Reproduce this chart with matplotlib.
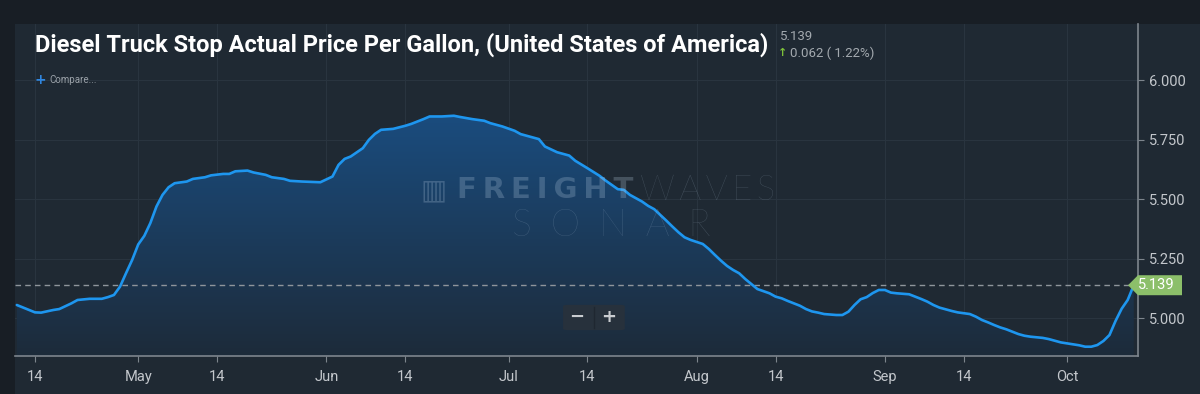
import matplotlib
matplotlib.use("Agg")
import matplotlib.pyplot as plt
import matplotlib.dates as mdates
import numpy as np
import pandas as pd
from matplotlib.colors import LinearSegmentedColormap
from matplotlib.patches import Polygon, FancyBboxPatch
from matplotlib.transforms import blended_transform_factory

# diesel truck stop price, 2022
dates = ['04-11', '04-14', '04-15', '04-17', '04-18', '04-20', '04-21', '04-23', '04-25', '04-26',
         '04-27', '04-28', '04-29', '04-30', '05-01', '05-02', '05-03', '05-04', '05-05', '05-06',
         '05-07', '05-09', '05-10', '05-12', '05-13', '05-15', '05-16', '05-17', '05-19', '05-20',
         '05-22', '05-23', '05-25', '05-26', '05-28', '05-31', '06-02', '06-03', '06-04', '06-05',
         '06-07', '06-08', '06-09', '06-10', '06-12', '06-14', '06-15', '06-17', '06-18', '06-20',
         '06-22', '06-23', '06-25', '06-27', '06-28', '06-30', '07-02', '07-03', '07-06', '07-07',
         '07-09', '07-11', '07-12', '07-14', '07-16', '07-17', '07-18', '07-19', '07-20', '07-21',
         '07-23', '07-24', '07-25', '07-26', '07-27', '07-28', '07-29', '07-30', '07-31', '08-02',
         '08-03', '08-04', '08-05', '08-06', '08-07', '08-08', '08-09', '08-10', '08-11', '08-13',
         '08-14', '08-15', '08-16', '08-17', '08-18', '08-19', '08-20', '08-21', '08-22', '08-24',
         '08-25', '08-26', '08-27', '08-28', '08-29', '08-30', '08-31', '09-01', '09-02', '09-03',
         '09-05', '09-06', '09-07', '09-08', '09-09', '09-10', '09-11', '09-12', '09-13', '09-15',
         '09-16', '09-17', '09-18', '09-19', '09-20', '09-21', '09-22', '09-23', '09-24', '09-25',
         '09-27', '09-28', '09-29', '09-30', '10-01', '10-02', '10-03', '10-04', '10-05', '10-06',
         '10-07', '10-08', '10-09', '10-10', '10-11', '10-12']
price = [5.056, 5.025, 5.024, 5.035, 5.039, 5.063, 5.077, 5.082, 5.082, 5.089,
         5.098, 5.133, 5.190, 5.245, 5.310, 5.346, 5.400, 5.469, 5.518, 5.550,
         5.567, 5.574, 5.585, 5.592, 5.600, 5.606, 5.606, 5.617, 5.620, 5.612,
         5.602, 5.592, 5.585, 5.577, 5.574, 5.571, 5.595, 5.644, 5.669, 5.679,
         5.714, 5.749, 5.774, 5.791, 5.795, 5.808, 5.816, 5.836, 5.847, 5.847,
         5.850, 5.845, 5.836, 5.829, 5.819, 5.805, 5.787, 5.773, 5.752, 5.721,
         5.697, 5.683, 5.661, 5.630, 5.598, 5.578, 5.560, 5.542, 5.539, 5.518,
         5.490, 5.472, 5.458, 5.434, 5.410, 5.385, 5.361, 5.340, 5.329, 5.312,
         5.291, 5.266, 5.242, 5.220, 5.203, 5.189, 5.165, 5.144, 5.123, 5.105,
         5.091, 5.084, 5.073, 5.063, 5.053, 5.039, 5.029, 5.024, 5.018, 5.014,
         5.014, 5.028, 5.056, 5.080, 5.089, 5.106, 5.119, 5.119, 5.108, 5.105,
         5.101, 5.091, 5.081, 5.070, 5.056, 5.045, 5.038, 5.031, 5.025, 5.018,
         5.007, 4.993, 4.983, 4.972, 4.962, 4.954, 4.944, 4.934, 4.927, 4.923,
         4.918, 4.913, 4.906, 4.899, 4.895, 4.891, 4.887, 4.881, 4.881, 4.888,
         4.905, 4.930, 4.989, 5.040, 5.077, 5.139]
yticks = [5.0, 5.25, 5.5, 5.75, 6.0]
last_value = 5.139
change = 0.062
change_pct = 1.22

x = mdates.date2num(pd.to_datetime(['2022-' + d for d in dates]))
y = np.array(price)

bg = '#1f2933'
outer = '#181e25'
grid_c = '#29343f'
text_c = '#c3c7cc'
line_c = '#1e96ef'

fig = plt.figure(figsize=(12, 3.94), dpi=100)
fig.patch.set_facecolor(outer)
# panel
fig.patches.append(FancyBboxPatch((15 / 1200, 0), 1 - 15 / 1200, 1 - 24 / 394,
                                  boxstyle='square,pad=0', transform=fig.transFigure,
                                  facecolor=bg, edgecolor='none', zorder=-5))

ax = fig.add_axes([15 / 1200, 1 - 356 / 394, 1123 / 1200, 332 / 394])
ax.set_facecolor(bg)
x0, x1 = x[0] - 0.3, x[-1] + 0.7
y0, y1 = 4.842, 6.235

# gradient fill under the curve
grad = np.linspace(1, 0, 256).reshape(-1, 1)
cmap = LinearSegmentedColormap.from_list('fillc', ['#1d2b3a', '#1a4c7e'])
im = ax.imshow(grad, extent=[x0, x1, y0, y.max()], aspect='auto', cmap=cmap,
               origin='upper', zorder=1)
poly = ax.fill_between(x, y, y0, color='none', lw=0)
im.set_clip_path(poly.get_paths()[0], transform=ax.transData)

ax.plot(x, y, color=line_c, lw=1.9, zorder=3, solid_capstyle='round')
ax.axhline(last_value, color='#8f959b', lw=1, ls=(0, (4, 3)), zorder=2)
ax.set_xlim(x0, x1)
ax.set_ylim(y0, y1)
ax.xaxis_date()

# axes styling
for s in ['top', 'left']:
    ax.spines[s].set_visible(False)
ax.spines['right'].set_color('#7d858d')
ax.spines['bottom'].set_color('#7d858d')
ax.spines['right'].set_linewidth(1.2)
ax.spines['bottom'].set_linewidth(1.2)

ax.yaxis.tick_right()
ax.set_yticks(yticks)
ax.yaxis.set_major_formatter(plt.FuncFormatter(lambda v, p: f'{v:.3f}'))
ax.xaxis.set_major_locator(mdates.DayLocator(bymonthday=[1, 14]))
ax.xaxis.set_major_formatter(plt.FuncFormatter(
    lambda v, p: mdates.num2date(v).strftime('%b') if mdates.num2date(v).day == 1 else '14'))
ax.tick_params(axis='both', colors='#7d858d', labelcolor=text_c, labelsize=10.5, length=4)
ax.tick_params(axis='y', pad=4)
ax.tick_params(axis='x', pad=6)
for lab in ax.get_xticklabels() + ax.get_yticklabels():
    lab.set_family(['Roboto', 'DejaVu Sans'])
ax.grid(True, color=grid_c, lw=0.8, zorder=0)
ax.set_axisbelow(True)

# last value tag
tr = blended_transform_factory(ax.transAxes, ax.transData)
fig.canvas.draw()
px = 1 / ax.get_window_extent().width
dy = 10 / (ax.transData.transform((0, 1))[1] - ax.transData.transform((0, 0))[1])
tag = Polygon([[1 - 10 * px, last_value], [1, last_value + dy], [1 + 44 * px, last_value + dy],
               [1 + 44 * px, last_value - dy], [1, last_value - dy]],
              closed=True, transform=tr, facecolor='#8cbf6a', edgecolor='none',
              clip_on=False, zorder=6)
ax.add_patch(tag)
ax.text(1 + 18 * px, last_value, f'{last_value:.3f}', transform=tr, ha='center', va='center',
        color='white', fontsize=10.5, family=['Roboto', 'DejaVu Sans'], zorder=7)

# title and header texts
fig.text(35 / 1200, 1 - 45 / 394, 'Diesel Truck Stop Actual Price Per Gallon, (United States of America)',
         color='white', fontsize=17, fontweight='bold', va='center',
         family=['Roboto', 'DejaVu Sans'])
fig.text(780 / 1200, 1 - 36 / 394, f'{last_value:.3f}', color='#a3a9af', fontsize=9.5,
         va='center', family=['Roboto', 'DejaVu Sans'])
fig.text(778 / 1200, 1 - 53 / 394, '↑', color='#7cbf3a', fontsize=8, fontweight='bold',
         va='center', family=['DejaVu Sans'])
fig.text(790 / 1200, 1 - 53 / 394, f'{change:.3f} ( {change_pct:.2f}%)', color='#a3a9af',
         fontsize=9.5, va='center', family=['Roboto', 'DejaVu Sans'])
fig.text(35 / 1200, 1 - 80 / 394, '+', color='#2f86e0', fontsize=10, fontweight='bold',
         va='center', family=['DejaVu Sans'])
fig.text(49 / 1200, 1 - 80 / 394, 'Compare...', color='#9aa1a8', fontsize=7,
         va='center', family=['Roboto', 'DejaVu Sans'])

# watermark
wm = dict(color='#b8cde2', alpha=0.25, va='center', zorder=4)
ax.text(0.373, 0.5, '▥', transform=ax.transAxes, fontsize=20, ha='center',
        family=['DejaVu Sans'], **wm)
ax.text(0.3936, 0.5, '\u2009'.join('FREIGHT'), transform=ax.transAxes, fontsize=21,
        fontweight='heavy', ha='left', family=['DejaVu Sans'], **wm)
ax.text(0.5565, 0.5, '\u2009'.join('WAVES'), transform=ax.transAxes, fontsize=25,
        fontweight='light', ha='left', family=['Lato', 'Roboto', 'DejaVu Sans'], **wm)
ax.text(0.5305, 0.392, '\u2002'.join('SONAR'), transform=ax.transAxes, fontsize=27,
        fontweight='light', ha='center', family=['Lato', 'Roboto', 'DejaVu Sans'], **wm)

# zoom buttons
ax.add_patch(FancyBboxPatch((0.488, 0.078), 0.055, 0.076, boxstyle='round,pad=0,rounding_size=0.004',
                            transform=ax.transAxes, facecolor='#27313c', edgecolor='none', zorder=5))
ax.plot([0.5156, 0.5156], [0.085, 0.147], transform=ax.transAxes, color='#1f2731', lw=1, zorder=6)
ax.text(0.5, 0.117, '−', transform=ax.transAxes, fontsize=13, fontweight='bold',
        color='#c9ccd0', ha='center', va='center', zorder=6, family=['DejaVu Sans'])
ax.text(0.529, 0.117, '+', transform=ax.transAxes, fontsize=13, fontweight='bold',
        color='#c9ccd0', ha='center', va='center', zorder=6, family=['DejaVu Sans'])

fig.savefig('out.png', dpi=100, facecolor=fig.get_facecolor())
